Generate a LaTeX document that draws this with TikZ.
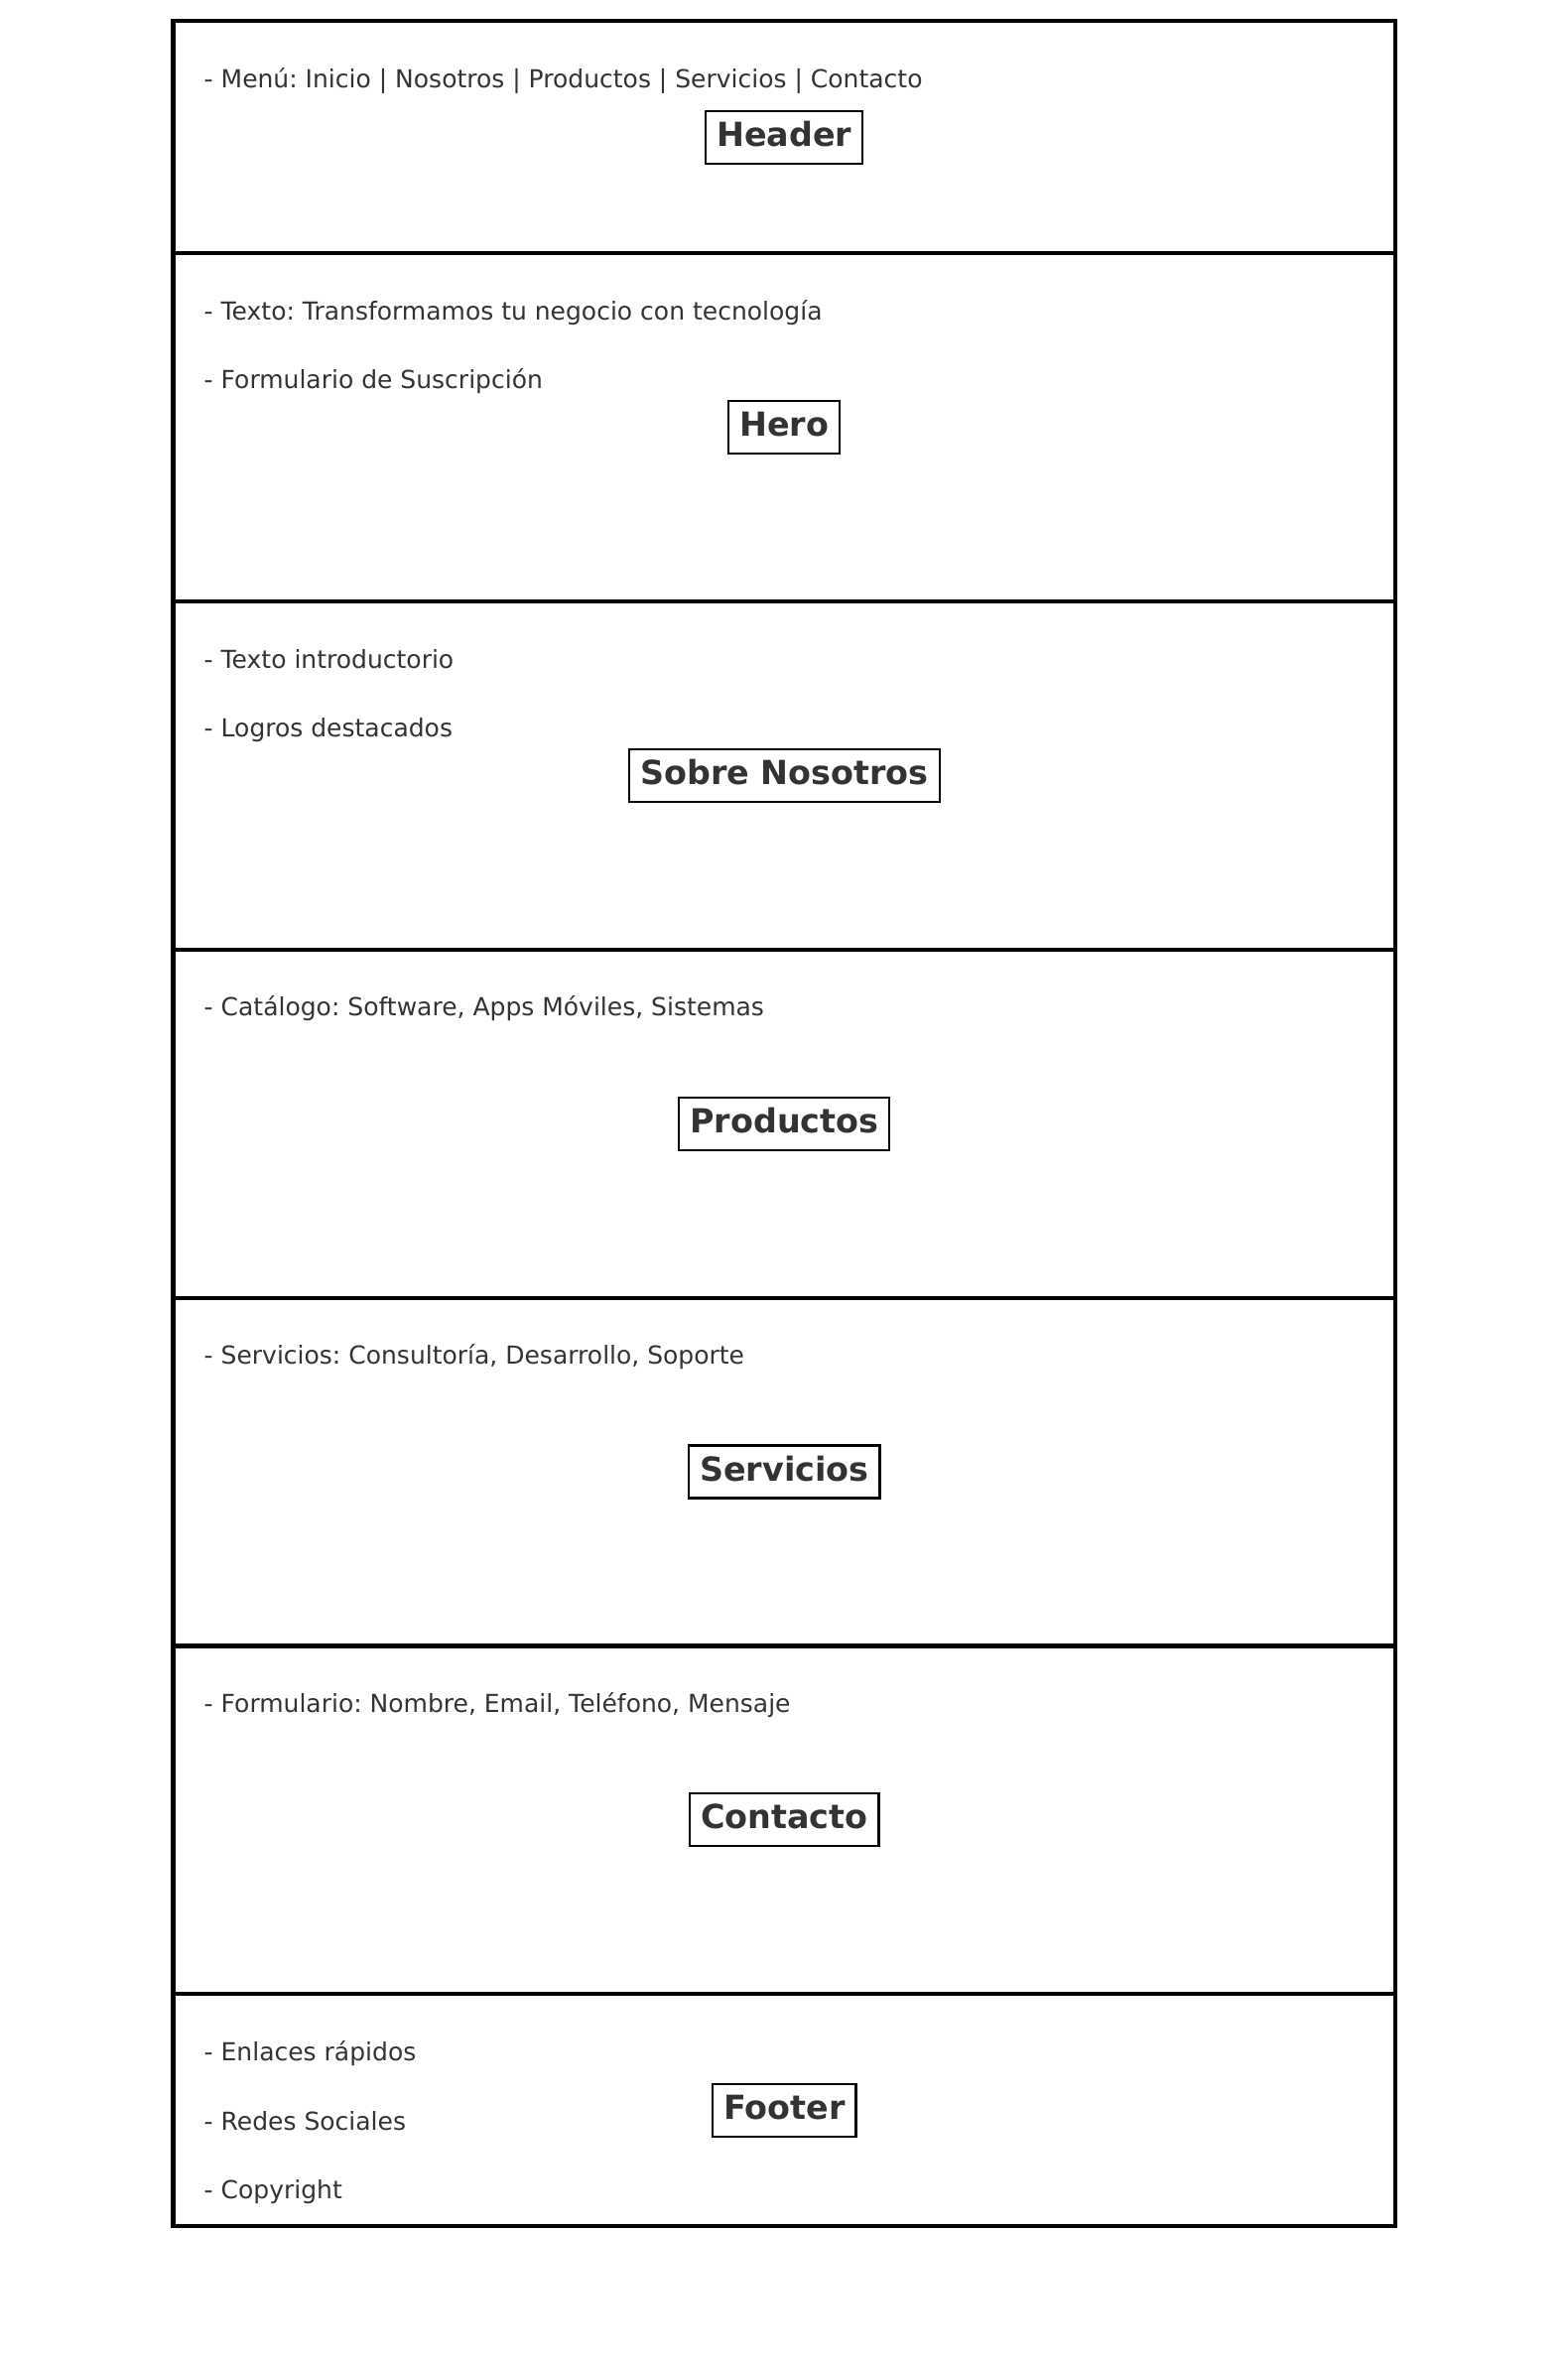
\documentclass[tikz,border=0pt]{standalone}
\usepackage{fontspec}
\setmainfont{DejaVu Sans}
\usepackage{tikz}
\usetikzlibrary{positioning}
\definecolor{ink}{HTML}{333333}
\tikzset{
  section/.style={draw=black, line width=1.2pt, minimum width=12.31cm, outer sep=0pt, inner sep=0pt},
  tag/.style={draw=black, line width=0.6pt, fill=white, text=ink, font=\fontsize{9.49pt}{11pt}\selectfont\bfseries,
    text height=0.25cm, text depth=0.07cm, inner xsep=0.11cm, inner ysep=0.105cm},
  item/.style={text=ink, font=\fontsize{7.11pt}{8.5pt}\selectfont\frenchspacing, inner sep=0pt, anchor=base west},
}

\begin{document}
\begin{tikzpicture}[x=0.01cm, y=0.01cm, node distance=0.697cm]
\useasboundingbox (0,0) rectangle (1580,2380);

\node (header) [section, minimum height=2.338cm, anchor=north west] at (174.5,2358.7) {};
\node (hero) [section, minimum height=3.506cm, below=0pt of header] {};
\node (about) [section, minimum height=3.506cm, below=0pt of hero] {};
\node (products) [section, minimum height=3.506cm, below=0pt of about] {};
\node (services) [section, minimum height=3.506cm, below=0pt of products] {};
\node (contact) [section, minimum height=3.506cm, below=0pt of services] {};
\node (footer) [section, minimum height=2.338cm, below=0pt of contact] {};

\node (headertag) [tag] at (header) {Header};
\node (herotag) [tag] at (hero) {Hero};
\node (abouttag) [tag] at (about) {Sobre Nosotros};
\node (productstag) [tag] at (products) {Productos};
\node (servicestag) [tag] at (services) {Servicios};
\node (contacttag) [tag] at (contact) {Contacto};
\node (footertag) [tag] at (footer) {Footer};

\node (menu) [below right=0.67cm and 0.305cm of header.north west, item] {- Menú: Inicio | Nosotros | Productos | Servicios | Contacto};
\node (hero1) [below right=0.67cm and 0.305cm of hero.north west, item] {- Texto: Transformamos tu negocio con tecnología};
\node (hero2) [below=0.697cm of hero1.base west, item] {- Formulario de Suscripción};
\node (about1) [below right=0.67cm and 0.305cm of about.north west, item] {- Texto introductorio};
\node (about2) [below=0.697cm of about1.base west, item] {- Logros destacados};
\node (catalog) [below right=0.67cm and 0.305cm of products.north west, item] {- Catálogo: Software, Apps Móviles, Sistemas};
\node (offer) [below right=0.67cm and 0.305cm of services.north west, item] {- Servicios: Consultoría, Desarrollo, Soporte};
\node (form) [below right=0.67cm and 0.305cm of contact.north west, item] {- Formulario: Nombre, Email, Teléfono, Mensaje};
\node (footer1) [below right=0.67cm and 0.305cm of footer.north west, item] {- Enlaces rápidos};
\node (footer2) [below=0.697cm of footer1.base west, item] {- Redes Sociales};
\node (footer3) [below=0.697cm of footer2.base west, item] {- Copyright};

\end{tikzpicture}
\end{document}
